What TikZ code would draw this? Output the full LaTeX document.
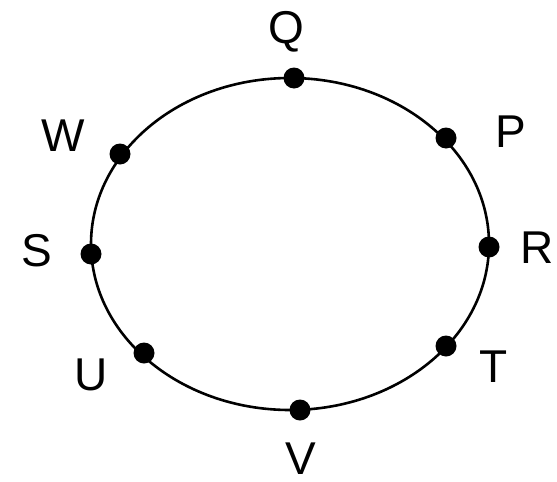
\documentclass[tikz,border=0pt]{standalone}
\usepackage{fontspec}
\setmainfont{Liberation Sans}
\begin{document}
\begin{tikzpicture}[x=1pt,y=-1pt,
  dot/.style={circle,fill=black,inner sep=0pt,minimum size=21pt},
  lbl/.style={inner sep=0pt,font=\fontsize{46}{46}\selectfont,text height=33pt,text depth=0pt,anchor=center}]
\useasboundingbox (0,0) rectangle (557,482);
\draw[line width=2.6pt] (290,244) ellipse [x radius=199, y radius=166];
\node[dot] (q) at (294,78) {};
\node[dot] (p) at (446,138) {};
\node[dot] (r) at (489,247) {};
\node[dot] (t) at (446,346) {};
\node[dot] (v) at (300,410) {};
\node[dot] (u) at (144,353) {};
\node[dot] (s) at (91,254) {};
\node[dot] (w) at (120,154) {};
\node[lbl] (lq) at (286,27) {Q};
\node[lbl] (lp) at (511,131) {P};
\node[lbl] (lr) at (537,247) {R};
\node[lbl] (lt) at (494,366) {T};
\node[lbl] (lv) at (301,458) {V};
\node[lbl] (lu) at (91,374) {U};
\node[lbl] (ls) at (37,250) {S};
\node[lbl] (lw) at (63,135) {W};
\end{tikzpicture}
\end{document}
